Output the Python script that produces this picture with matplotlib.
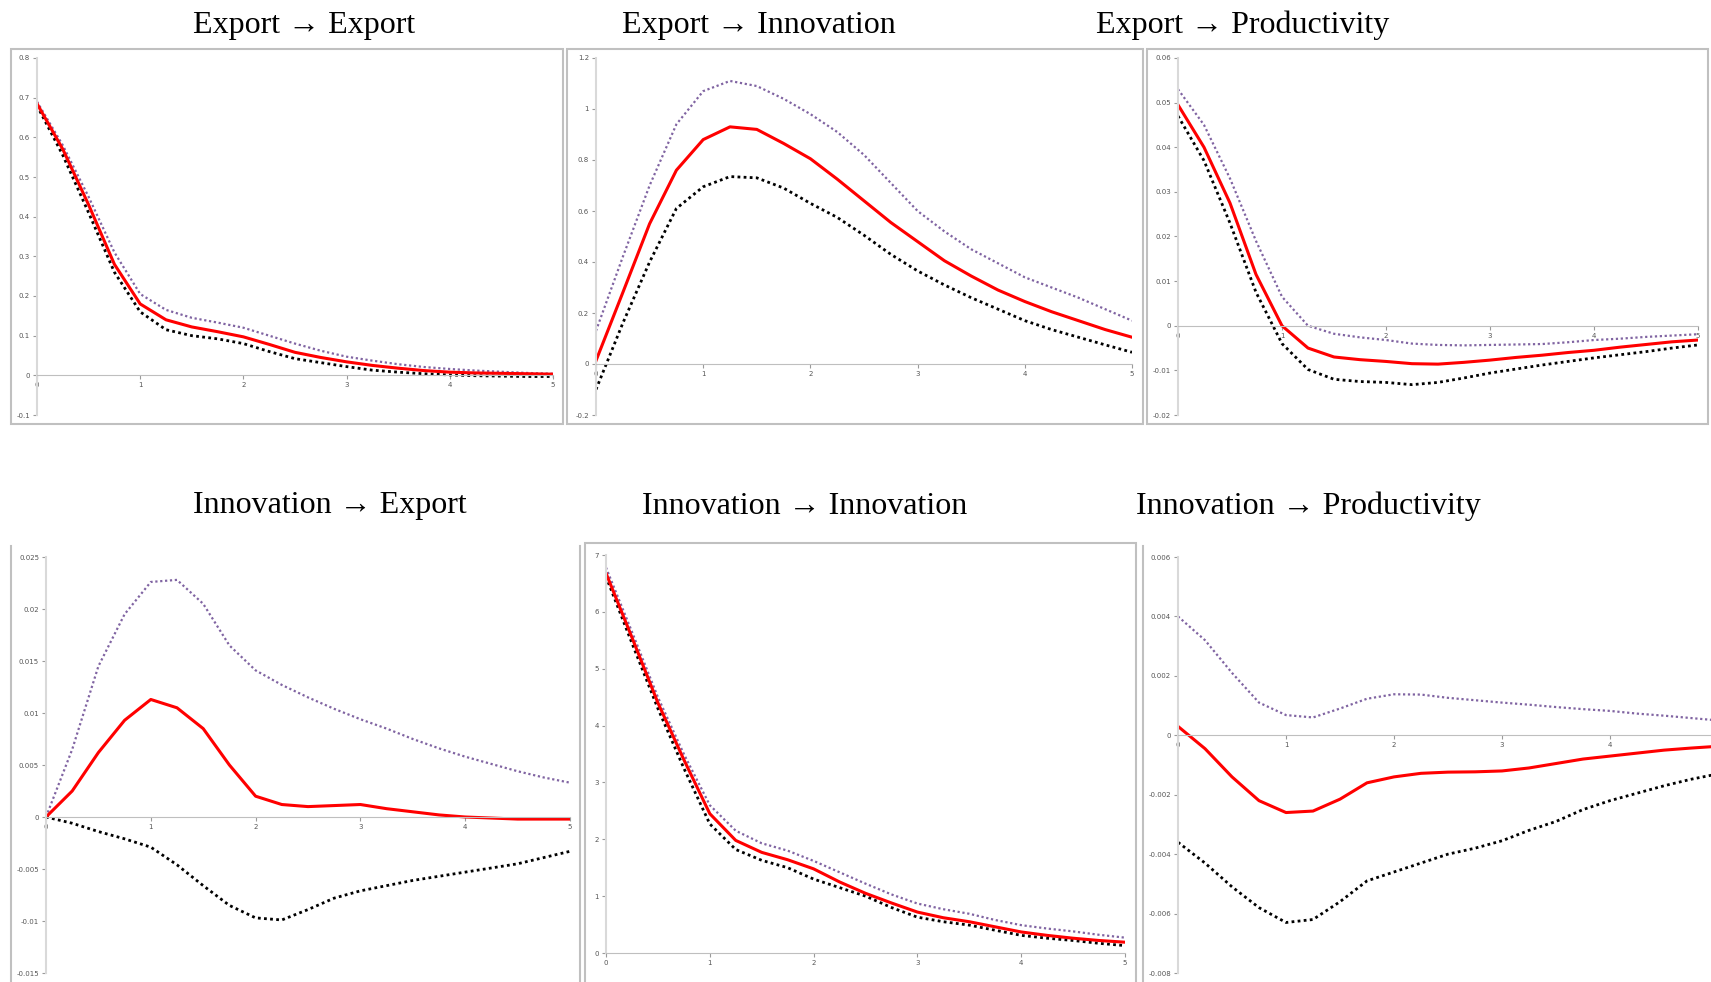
import numpy as np
import matplotlib.pyplot as plt
from matplotlib.patches import Rectangle
from matplotlib.lines import Line2D
from matplotlib.ticker import FuncFormatter, MultipleLocator, FixedLocator

# horizon (years), quarterly steps
t = [0, 0.25, 0.5, 0.75, 1, 1.25, 1.5, 1.75, 2, 2.25, 2.5, 2.75,
     3, 3.25, 3.5, 3.75, 4, 4.25, 4.5, 4.75, 5]

titles = ["Export \u2192 Export", "Export \u2192 Innovation", "Export \u2192 Productivity",
          "Innovation \u2192 Export", "Innovation \u2192 Innovation", "Innovation \u2192 Productivity"]

# Export -> Export
ee_irf = [0.685, 0.57, 0.43, 0.28, 0.18, 0.14, 0.122, 0.11, 0.097, 0.078, 0.058,
          0.045, 0.034, 0.025, 0.018, 0.012, 0.008, 0.006, 0.005, 0.004, 0.003]
ee_up = [0.69, 0.58, 0.45, 0.31, 0.205, 0.165, 0.145, 0.133, 0.12, 0.1, 0.08,
         0.062, 0.047, 0.037, 0.028, 0.021, 0.016, 0.012, 0.009, 0.006, 0.004]
ee_lo = [0.68, 0.555, 0.41, 0.26, 0.16, 0.115, 0.1, 0.092, 0.08, 0.06, 0.042,
         0.032, 0.022, 0.013, 0.008, 0.004, 0.001, -0.001, -0.002, -0.003, -0.003]

# Export -> Innovation
ei_irf = [0.013, 0.28, 0.55, 0.76, 0.88, 0.93, 0.92, 0.865, 0.805, 0.725, 0.64,
          0.555, 0.48, 0.405, 0.345, 0.29, 0.245, 0.205, 0.17, 0.135, 0.105]
ei_up = [0.13, 0.42, 0.70, 0.94, 1.07, 1.11, 1.09, 1.04, 0.98, 0.91, 0.82,
         0.71, 0.60, 0.52, 0.45, 0.395, 0.34, 0.3, 0.26, 0.215, 0.17]
ei_lo = [-0.1, 0.16, 0.40, 0.61, 0.695, 0.735, 0.73, 0.69, 0.63, 0.575, 0.505,
         0.43, 0.365, 0.31, 0.26, 0.215, 0.17, 0.135, 0.105, 0.075, 0.046]

# Export -> Productivity
ep_irf = [0.0495, 0.040, 0.0275, 0.0115, 0.0, -0.005, -0.007, -0.0076, -0.008, -0.0085, -0.0086,
          -0.0082, -0.0077, -0.0071, -0.0066, -0.006, -0.0055, -0.0048, -0.0042, -0.0036, -0.0032]
ep_up = [0.053, 0.045, 0.033, 0.019, 0.0065, 0.0, -0.0018, -0.0026, -0.0032, -0.004, -0.0043,
         -0.0044, -0.0043, -0.0042, -0.0041, -0.0037, -0.0032, -0.0029, -0.0025, -0.0022, -0.0019]
ep_lo = [0.047, 0.037, 0.023, 0.0075, -0.004, -0.0098, -0.012, -0.0125, -0.0127, -0.0132, -0.0127,
         -0.0117, -0.0106, -0.0097, -0.0088, -0.008, -0.0072, -0.0065, -0.0058, -0.005, -0.0043]

# Innovation -> Export
ie_irf = [0.0, 0.0025, 0.0062, 0.0093, 0.0113, 0.0105, 0.0085, 0.005, 0.002, 0.0012, 0.001,
          0.0011, 0.0012, 0.0008, 0.0005, 0.0002, 0.0, -0.0001, -0.0002, -0.0002, -0.0002]
ie_up = [0.0, 0.0065, 0.0145, 0.0195, 0.0226, 0.0228, 0.0205, 0.0165, 0.0141, 0.0127, 0.0115,
         0.0104, 0.0094, 0.0085, 0.0075, 0.0066, 0.0058, 0.0051, 0.0044, 0.0038, 0.0033]
ie_lo = [0.0, -0.0006, -0.0014, -0.0021, -0.0029, -0.0046, -0.0066, -0.0085, -0.0097, -0.0099, -0.0089,
         -0.0078, -0.0071, -0.0066, -0.0061, -0.0057, -0.0053, -0.0049, -0.0045, -0.0039, -0.0033]

# Innovation -> Innovation
ii_irf = [6.68, 5.55, 4.4, 3.4, 2.45, 1.98, 1.77, 1.64, 1.48, 1.25, 1.05,
          0.88, 0.72, 0.62, 0.55, 0.46, 0.37, 0.31, 0.26, 0.22, 0.19]
ii_up = [6.78, 5.65, 4.5, 3.5, 2.6, 2.15, 1.93, 1.8, 1.62, 1.42, 1.22,
         1.03, 0.87, 0.77, 0.69, 0.58, 0.49, 0.43, 0.38, 0.32, 0.27]
ii_lo = [6.62, 5.45, 4.3, 3.25, 2.27, 1.82, 1.63, 1.5, 1.3, 1.15, 1.0,
         0.8, 0.63, 0.55, 0.49, 0.4, 0.31, 0.26, 0.22, 0.17, 0.13]

# Innovation -> Productivity
ip_irf = [0.0003, -0.00045, -0.0014, -0.0022, -0.0026, -0.00255, -0.00215, -0.0016, -0.0014, -0.00128, -0.00124,
          -0.00123, -0.0012, -0.0011, -0.00095, -0.0008, -0.0007, -0.0006, -0.0005, -0.00043, -0.00037]
ip_up = [0.004, 0.0032, 0.0021, 0.0011, 0.00068, 0.0006, 0.0009, 0.00123, 0.00138, 0.00137, 0.00126,
         0.00118, 0.0011, 0.00103, 0.00095, 0.00088, 0.00082, 0.00073, 0.00066, 0.00058, 0.0005]
ip_lo = [-0.0036, -0.0043, -0.0051, -0.0058, -0.0063, -0.0062, -0.0056, -0.0049, -0.0046, -0.0043, -0.004,
         -0.0038, -0.00355, -0.0032, -0.0029, -0.0025, -0.0022, -0.00195, -0.0017, -0.00148, -0.0013]

series = [(ee_irf, ee_up, ee_lo), (ei_irf, ei_up, ei_lo), (ep_irf, ep_up, ep_lo),
          (ie_irf, ie_up, ie_lo), (ii_irf, ii_up, ii_lo), (ip_irf, ip_up, ip_lo)]

ylims = [(-0.1, 0.8), (-0.2, 1.2), (-0.02, 0.06), (-0.015, 0.025), (0, 7), (-0.008, 0.006)]
ysteps = [0.1, 0.2, 0.01, 0.005, 1, 0.002]
xticks = [[0, 1, 2, 3, 4, 5]] * 5 + [[0, 1, 2, 3, 4]]

W, H = 1711, 982
# pixel positions: x of t=0, x of t=5, y of ymax, y of ymin
boxes_px = [(37, 553, 58, 415), (596, 1132, 58, 415), (1178, 1698, 58, 415),
            (46, 570, 557, 973), (606, 1125, 555, 953), (1178, 1718, 557, 973)]
title_px = [(304, 25), (759, 25), (1243, 25), (330, 506), (805, 506), (1308, 506)]

fig = plt.figure(figsize=(W / 100, H / 100), dpi=100)

# frames around the pasted charts
frame_col = '#c0c0c0'
frames = [(11, 49, 563, 424), (567, 49, 1143, 424), (1147, 49, 1708, 424),
          (585, 543, 1136, 990)]
for x0, y0, x1, y1 in frames:
    fig.patches.append(Rectangle((x0 / W, 1 - y1 / H), (x1 - x0) / W, (y1 - y0) / H,
                                 transform=fig.transFigure, fill=False,
                                 edgecolor=frame_col, lw=1.5))
for x, y0, y1 in [(11, 546, 990), (580, 546, 990), (1143, 546, 990)]:
    fig.lines.append(Line2D([x / W, x / W], [1 - y1 / H, 1 - y0 / H],
                            transform=fig.transFigure, color=frame_col, lw=1.5))

fmt = FuncFormatter(lambda v, p: '%g' % round(v, 6))

for k in range(6):
    xa, xb, ya, yb = boxes_px[k]
    ax = fig.add_axes([xa / W, 1 - yb / H, (xb - xa) / W, (yb - ya) / H])
    irf, up, lo = series[k]
    ax.plot(t, up, color='#8064a2', lw=1.6, linestyle=(0, (1, 1.2)))
    ax.plot(t, lo, color='black', lw=2.0, linestyle=(0, (1, 1.2)))
    ax.plot(t, irf, color='#ff0000', lw=2.2, solid_joinstyle='round')
    ax.set_xlim(0, 5)
    ax.set_ylim(*ylims[k])
    ax.yaxis.set_major_locator(MultipleLocator(ysteps[k]))
    ax.xaxis.set_major_locator(FixedLocator(xticks[k]))
    ax.yaxis.set_major_formatter(fmt)
    ax.xaxis.set_major_formatter(fmt)
    ax.spines['top'].set_visible(False)
    ax.spines['right'].set_visible(False)
    ax.spines['bottom'].set_position(('data', 0))
    ax.spines['bottom'].set_color('#bfbfbf')
    ax.spines['left'].set_color('#d9d9d9')
    ax.spines['left'].set_linewidth(1.5)
    ax.tick_params(axis='both', labelsize=5, colors='#9a9a9a', labelcolor='#555555',
                   length=3, width=0.8, pad=2)
    ax.patch.set_alpha(0)
    tx, ty = title_px[k]
    fig.text(tx / W, 1 - ty / H, titles[k], ha='center', va='center',
             fontsize=23, family='Liberation Serif')

fig.savefig('out.png', dpi=100)
